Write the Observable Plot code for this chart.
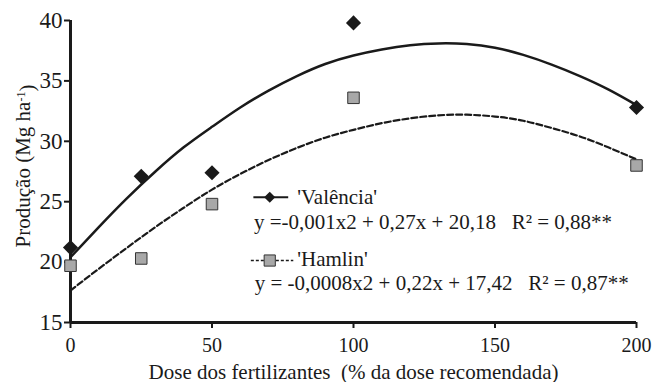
<!DOCTYPE html>
<html>
<head>
<meta charset="utf-8">
<script src="https://cdn.jsdelivr.net/npm/d3@7"></script>
<script src="https://cdn.jsdelivr.net/npm/@observablehq/plot@0.6"></script>
<style>
  html, body { margin: 0; padding: 0; background: #fff; }
  #chart { width: 660px; height: 382px; }
</style>
</head>
<body>
<div id="chart"></div>
<script>
// ---- data ----
const doses = [0, 25, 50, 100, 200];
const valencia = [21.2, 27.1, 27.4, 39.8, 32.8];
const hamlin = [19.7, 20.3, 24.8, 33.6, 28.0];

// fitted curves
const fitX = [0, 10, 20, 30, 40, 50, 60, 70, 80, 90, 100, 110, 120, 130, 140, 150, 160, 170, 180, 190, 200];
const valenciaFit = [20.4, 22.9, 25.3, 27.5, 29.5, 31.2, 32.8, 34.2, 35.4, 36.4, 37.1, 37.6, 37.95, 38.1, 38.05, 37.75, 37.15, 36.35, 35.4, 34.3, 33.0];
const hamlinFit = [17.65, 19.45, 21.2, 22.9, 24.5, 26.0, 27.3, 28.45, 29.45, 30.3, 30.95, 31.5, 31.9, 32.15, 32.2, 32.05, 31.7, 31.1, 30.4, 29.5, 28.5];

const xTicks = [0, 50, 100, 150, 200];
const yTicks = [15, 20, 25, 30, 35, 40];

const seriesNames = ["'Valência'", "'Hamlin'"];
const equations = [
  "y =-0,001x2 + 0,27x + 20,18 \u00a0 R² = 0,88**",
  "y = -0,0008x2 + 0,22x + 17,42 \u00a0 R² = 0,87**"
];
const xLabel = "Dose dos fertilizantes \u00a0(% da dose recomendada)";

// ---- tables ----
const valPts = doses.map((d, i) => ({x: d, y: valencia[i]}));
const hamPts = doses.map((d, i) => ({x: d, y: hamlin[i]}));
const valFit = fitX.map((d, i) => ({x: d, y: valenciaFit[i]}));
const hamFit = fitX.map((d, i) => ({x: d, y: hamlinFit[i]}));

// legend layout (in data units)
const lg = {
  x0: 64.8, x1: 77.1,
  y1: 25.37, sym1: 70.4, txt1x: 80.1, txt1y: 24.77, eq1x: 64.8, eq1y: 22.78,
  y2: 20.13, x0b: 63.9, x1b: 78.9, sym2: 70.4, txt2x: 80.1, txt2y: 19.64, eq2x: 65.1, eq2y: 17.73
};

const ink = "#1a1a1a";
const grey = "#a8a8a8";
const serif = "\"Liberation Serif\", \"Times New Roman\", Times, serif";

const chart = Plot.plot({
  width: 660,
  height: 382,
  marginLeft: 70,
  marginRight: 24,
  marginTop: 20,
  marginBottom: 60,
  style: {fontFamily: serif, fontSize: "21px", background: "#fff", color: ink},
  x: {domain: [0, 200]},
  y: {domain: [15, 40]},
  marks: [
    Plot.axisX({ticks: xTicks, tickSize: 6, tickPadding: 9, strokeWidth: 2, label: null, fontSize: 20}),
    Plot.axisY({ticks: yTicks, tickSize: 6, tickPadding: 2, strokeWidth: 2, label: null, fontSize: 23}),
    Plot.ruleX([0], {stroke: ink, strokeWidth: 3}),
    Plot.ruleY([15], {stroke: ink, strokeWidth: 3}),
    Plot.line(valFit, {x: "x", y: "y", curve: "natural", stroke: ink, strokeWidth: 2.5}),
    Plot.line(hamFit, {x: "x", y: "y", curve: "natural", stroke: ink, strokeWidth: 2.2, strokeDasharray: "6,3"}),
    Plot.dot(valPts, {x: "x", y: "y", symbol: "diamond2", r: 6.8, fill: ink, stroke: "none"}),
    Plot.dot(hamPts, {x: "x", y: "y", symbol: "square", r: 6.5, fill: grey, stroke: "#333", strokeWidth: 1}),
    // legend
    Plot.ruleY([lg.y1], {x1: lg.x0, x2: lg.x1, stroke: ink, strokeWidth: 2}),
    Plot.dot([0], {x: () => lg.sym1, y: () => lg.y1, symbol: "diamond2", r: 5, fill: ink, stroke: "none"}),
    Plot.text([seriesNames[0]], {x: () => lg.txt1x, y: () => lg.txt1y, text: d => d, textAnchor: "start", lineAnchor: "bottom", fontSize: 21}),
    Plot.text([equations[0]], {x: () => lg.eq1x, y: () => lg.eq1y, text: d => d, textAnchor: "start", lineAnchor: "bottom", fontSize: 21}),
    Plot.ruleY([lg.y2], {x1: lg.x0b, x2: lg.x1b, stroke: ink, strokeWidth: 1.5, strokeDasharray: "3,2"}),
    Plot.dot([0], {x: () => lg.sym2, y: () => lg.y2, symbol: "square", r: 6.3, fill: grey, stroke: "#333", strokeWidth: 1}),
    Plot.text([seriesNames[1]], {x: () => lg.txt2x, y: () => lg.txt2y, text: d => d, textAnchor: "start", lineAnchor: "bottom", fontSize: 21}),
    Plot.text([equations[1]], {x: () => lg.eq2x, y: () => lg.eq2y, text: d => d, textAnchor: "start", lineAnchor: "bottom", fontSize: 21}),
    // x axis label
    Plot.text([xLabel], {frameAnchor: "bottom", dy: 56, text: d => d, lineAnchor: "bottom", fontSize: 21})
  ]
});

// y axis label with superscript
const svg = d3.select(chart);
const yl = svg.append("text")
  .attr("transform", "translate(30,166) rotate(-90)")
  .attr("text-anchor", "middle")
  .attr("fill", ink)
  .style("font-family", serif)
  .style("font-size", "21px");
yl.append("tspan").text("Produção (Mg ha");
yl.append("tspan").attr("dy", "-0.45em").style("font-size", "12px").text("-1");
yl.append("tspan").attr("dy", "0.45em").text(")");

document.getElementById("chart").appendChild(chart);
</script>
</body>
</html>
